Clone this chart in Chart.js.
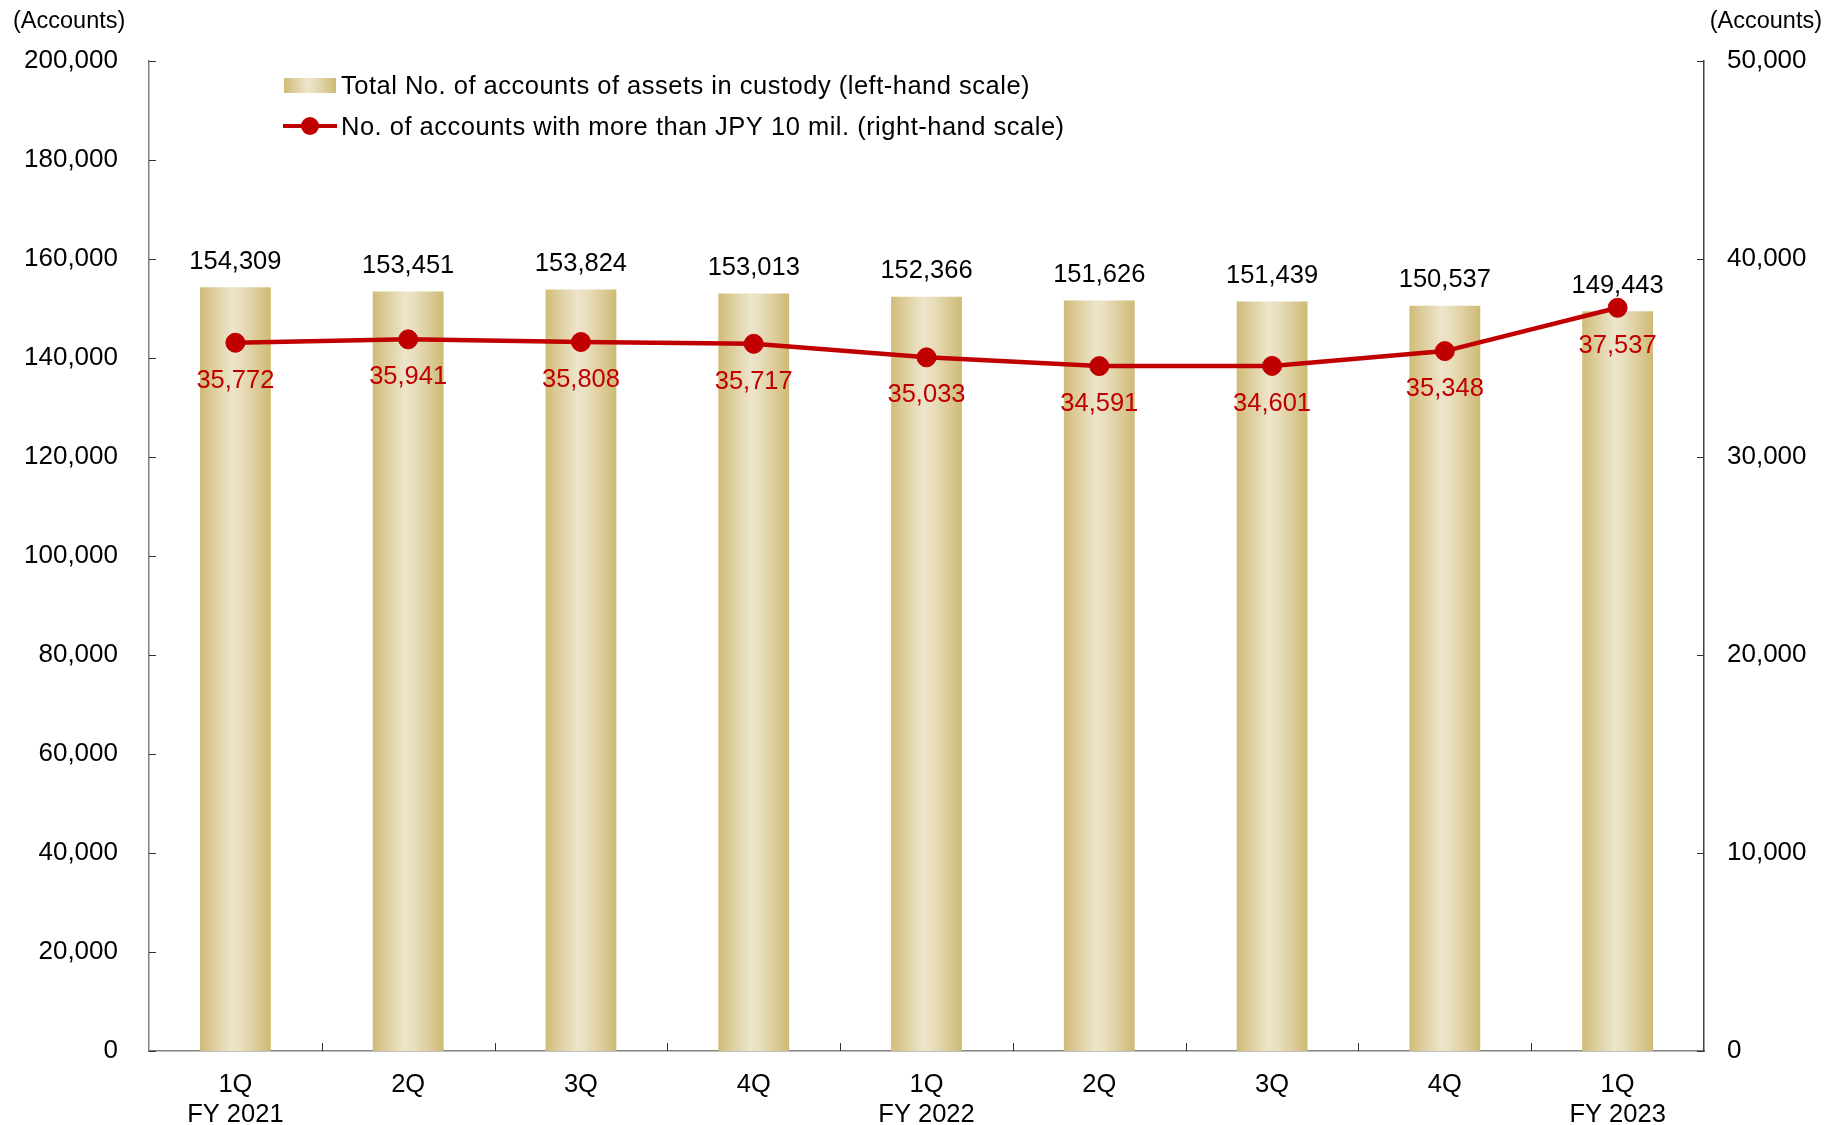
<!DOCTYPE html>
<html>
<head>
<meta charset="utf-8">
<script src="https://cdn.jsdelivr.net/npm/chart.js@4.4.1/dist/chart.umd.min.js"></script>
<style>
  html, body { margin: 0; padding: 0; background: #fff; }
  canvas { display: block; }
</style>
</head>
<body>
<canvas id="chart" width="1825" height="1125"></canvas>
<script>
// Quarter labels (second line carries the fiscal year)
const quarters = [
  ['1Q', 'FY 2021'], '2Q', '3Q', '4Q',
  ['1Q', 'FY 2022'], '2Q', '3Q', '4Q',
  ['1Q', 'FY 2023']
];
// Total number of accounts with assets in custody (left axis)
const totalAccounts = [154309, 153451, 153824, 153013, 152366, 151626, 151439, 150537, 149443];
// Accounts holding more than JPY 10 mil. (right axis)
const largeAccounts = [35772, 35941, 35808, 35717, 35033, 34591, 34601, 35348, 37537];

const leftMax = 200000, leftStep = 20000;
const rightMax = 50000, rightStep = 10000;

const FONT = 'Liberation Sans, Arial, sans-serif';
const RED = '#C00000';
const BAR_FRAC = 0.41;

function goldGradient(ctx, x0, x1) {
  const g = ctx.createLinearGradient(x0, 0, x1, 0);
  g.addColorStop(0, '#D0BC78');
  g.addColorStop(0.45, '#EDE5CB');
  g.addColorStop(0.58, '#E9DFBF');
  g.addColorStop(1, '#CEBA75');
  return g;
}

// Inward tick marks on all three axes
const innerTicks = {
  id: 'innerTicks',
  afterDraw(chart) {
    const { ctx, chartArea: a, scales } = chart;
    ctx.save();
    ctx.lineWidth = 1;
    ctx.strokeStyle = '#333';
    ctx.beginPath();
    scales.y.ticks.forEach(t => {
      const y = Math.round(scales.y.getPixelForValue(t.value)) + 0.5;
      ctx.moveTo(a.left, y); ctx.lineTo(a.left + 7, y);
    });
    scales.y1.ticks.forEach(t => {
      const y = Math.round(scales.y1.getPixelForValue(t.value)) + 0.5;
      ctx.moveTo(a.right - 7, y); ctx.lineTo(a.right, y);
    });
    const step = (a.right - a.left) / quarters.length;
    for (let k = 1; k < quarters.length; k++) {
      const x = Math.round(a.left + k * step) + 0.5;
      ctx.moveTo(x, a.bottom); ctx.lineTo(x, a.bottom - 8);
    }
    ctx.stroke();
    ctx.restore();
  }
};

// Value labels, axis unit captions and the legend
const annotations = {
  id: 'annotations',
  afterDatasetsDraw(chart) {
    const { ctx } = chart;
    ctx.save();
    ctx.font = '25.5px ' + FONT;
    ctx.textAlign = 'center';
    ctx.textBaseline = 'middle';

    const barMeta = chart.getDatasetMeta(1);
    ctx.fillStyle = '#000';
    barMeta.data.forEach((el, i) => {
      ctx.fillText(totalAccounts[i].toLocaleString('en-US'), el.x, el.y - 25.5);
    });

    const lineMeta = chart.getDatasetMeta(0);
    ctx.fillStyle = RED;
    lineMeta.data.forEach((el, i) => {
      ctx.fillText(largeAccounts[i].toLocaleString('en-US'), el.x, el.y + 38);
    });

    // unit captions
    ctx.fillStyle = '#000';
    ctx.font = '23.5px ' + FONT;
    ctx.textAlign = 'left';
    ctx.fillText('(Accounts)', 13, 22);
    ctx.textAlign = 'right';
    ctx.fillText('(Accounts)', 1822, 22);

    // legend
    ctx.font = '25.5px ' + FONT;
    ctx.textAlign = 'left';
    if ('letterSpacing' in ctx) ctx.letterSpacing = '0.5px';
    ctx.fillStyle = goldGradient(ctx, 284, 336);
    ctx.fillRect(284, 78, 52, 15);
    ctx.fillStyle = '#000';
    ctx.fillText('Total No. of accounts of assets in custody (left-hand scale)', 341, 87);

    ctx.strokeStyle = RED;
    ctx.lineWidth = 4;
    ctx.beginPath();
    ctx.moveTo(283, 126); ctx.lineTo(337, 126);
    ctx.stroke();
    ctx.fillStyle = RED;
    ctx.beginPath();
    ctx.arc(310, 126, 9, 0, Math.PI * 2);
    ctx.fill();
    ctx.fillStyle = '#000';
    ctx.fillText('No. of accounts with more than JPY 10 mil. (right-hand scale)', 341, 128);
    ctx.restore();
  }
};

const ctx = document.getElementById('chart').getContext('2d');
new Chart(ctx, {
  data: {
    labels: quarters,
    datasets: [
      {
        type: 'line',
        label: 'No. of accounts with more than JPY 10 mil. (right-hand scale)',
        data: largeAccounts,
        yAxisID: 'y1',
        borderColor: RED,
        backgroundColor: RED,
        borderWidth: 4.5,
        pointRadius: 9.5,
        pointBorderWidth: 1,
        pointBackgroundColor: RED,
        pointBorderColor: RED,
        tension: 0,
        order: 0
      },
      {
        type: 'bar',
        label: 'Total No. of accounts of assets in custody (left-hand scale)',
        data: totalAccounts,
        yAxisID: 'y',
        barPercentage: BAR_FRAC,
        categoryPercentage: 1.0,
        borderWidth: 0,
        backgroundColor: (c) => {
          const chart = c.chart;
          const xs = chart.scales && chart.scales.x;
          if (!xs || c.dataIndex === undefined || !chart.chartArea) return '#DCCB95';
          const cx = xs.getPixelForValue(c.dataIndex);
          const half = xs.width / quarters.length * BAR_FRAC / 2;
          return goldGradient(chart.ctx, cx - half, cx + half);
        },
        order: 1
      }
    ]
  },
  options: {
    responsive: false,
    animation: false,
    devicePixelRatio: 1,
    layout: { padding: { top: 61, left: 0, right: 0, bottom: 0 } },
    plugins: {
      legend: { display: false },
      tooltip: { enabled: false }
    },
    scales: {
      x: {
        type: 'category',
        offset: true,
        grid: { display: false, drawTicks: false },
        border: { display: true, color: '#808080', width: 1.5 },
        ticks: {
          color: '#000',
          font: { family: FONT, size: 25.5, lineHeight: 1.18 },
          padding: 19,
          maxRotation: 0,
          autoSkip: false
        },
        afterFit(s) { s.height = 74; }
      },
      y: {
        position: 'left',
        min: 0,
        max: leftMax,
        grid: { display: false, drawTicks: false },
        border: { display: true, color: '#808080', width: 1.5 },
        ticks: {
          stepSize: leftStep,
          color: '#000',
          font: { family: FONT, size: 26 },
          padding: 31,
          callback: v => v.toLocaleString('en-US')
        },
        afterFit(s) { s.width = 149; }
      },
      y1: {
        position: 'right',
        min: 0,
        max: rightMax,
        grid: { display: false, drawTicks: false },
        border: { display: true, color: '#404040', width: 1.5 },
        ticks: {
          stepSize: rightStep,
          color: '#000',
          font: { family: FONT, size: 26 },
          padding: 23,
          callback: v => v.toLocaleString('en-US')
        },
        afterFit(s) { s.width = 121; }
      }
    }
  },
  plugins: [innerTicks, annotations]
});
</script>
</body>
</html>
